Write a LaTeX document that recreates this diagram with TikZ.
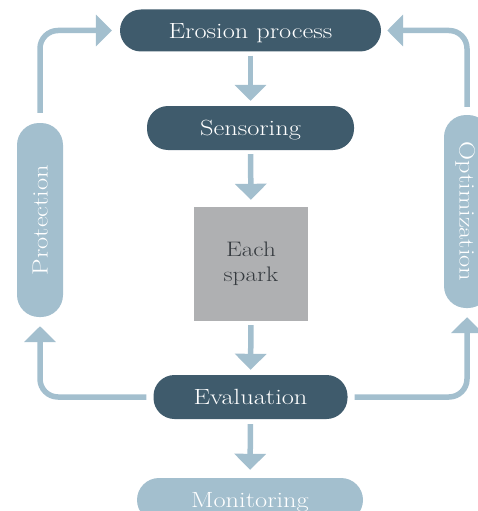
\documentclass[tikz,border=0pt]{standalone}
\usepackage{fontspec}
\setmainfont{Latin Modern Roman}[FakeStretch=1.2]
\usepackage{tikz}
\usetikzlibrary{arrows.meta}
\definecolor{slate}{HTML}{3F5B6C}
\definecolor{mist}{HTML}{A3BFCE}
\definecolor{ash}{HTML}{AFB0B2}
\definecolor{ink}{HTML}{363B40}

\begin{document}
\begin{tikzpicture}[x=1pt,y=-1pt,
  darkpill/.style={fill=slate, text=white, rounded corners=21pt, minimum height=44pt, inner sep=0pt, text height=15pt, text depth=0pt, font=\fontsize{22}{26}\selectfont},
  lightpill/.style={fill=mist, text=white, rounded corners=22pt, minimum height=46pt, inner sep=0pt, text height=15pt, text depth=0pt, font=\fontsize{22}{26}\selectfont},
  flow/.style={draw=mist, line width=5.5pt, -{Triangle[width=31pt,length=16pt]}}]
\path[use as bounding box, clip] (0,0) rectangle (478,511);
%boxes
\node[darkpill, minimum width=261pt, minimum height=42pt] (erosion) at (250.5,30.5) {Erosion process};
\node[darkpill, minimum width=207pt] (sensor) at (250.5,128) {Sensoring};
\node[fill=ash, text=ink, minimum size=114pt, align=center, font=\fontsize{21}{25}\selectfont] (spark) at (251,264) {Each\\spark};
\node[darkpill, minimum width=194pt] (eval) at (250.5,397) {Evaluation};
\node[lightpill, minimum width=226pt, minimum height=44pt] (monitor) at (250,500) {Monitoring};
%side boxes
\node[lightpill, minimum width=194pt, rotate=90] (protect) at (40,220) {Protection};
\node[lightpill, minimum width=193pt, rotate=-90] (optim) at (467,211.5) {Optimization};

%down
\draw[flow, shorten <=4pt, shorten >=5pt] (erosion.south) -- (sensor.north);
\draw[flow, shorten <=4pt, shorten >=7pt] (sensor.south) -- (spark.north);
\draw[flow, shorten <=4pt, shorten >=5pt] (spark.south) -- (eval.north);
\draw[flow, shorten <=5pt, shorten >=8pt] (eval.south) -- (monitor.north);
%loop left
\draw[flow, rounded corners=18pt, shorten <=7pt, shorten >=9pt] (eval.west) -| (protect.west);
\draw[flow, rounded corners=18pt, shorten <=10pt, shorten >=8pt] (protect.east) |- (erosion.west);
%loop right
\draw[flow, rounded corners=18pt, shorten <=7pt, shorten >=9pt] (eval.east) -| (optim.east);
\draw[flow, rounded corners=18pt, shorten <=8pt, shorten >=6pt] (optim.west) |- (erosion.east);
\end{tikzpicture}
\end{document}
